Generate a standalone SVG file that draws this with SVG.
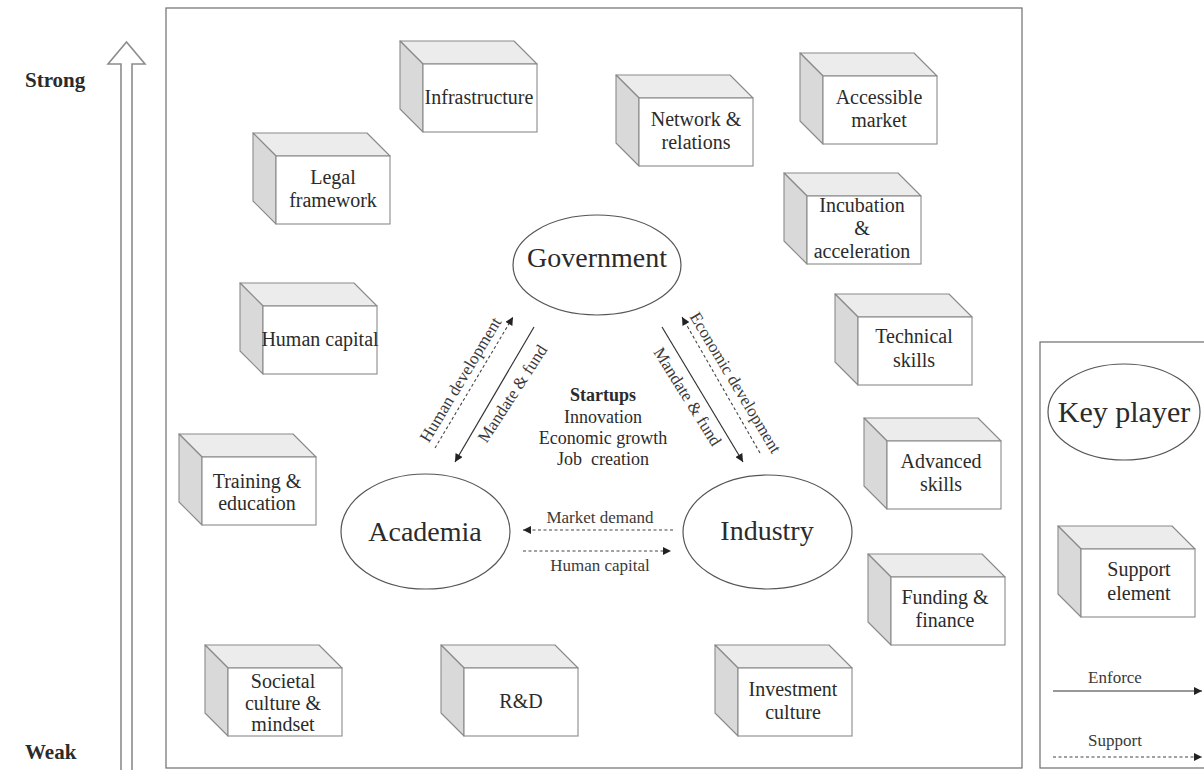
<svg xmlns="http://www.w3.org/2000/svg" xmlns:xlink="http://www.w3.org/1999/xlink" width="1204" height="770" viewBox="0 0 1204 770">
  <style>
    text { font-family: "Liberation Serif", "Times New Roman", serif; fill: #2b2b2b; }
    .box-t { font-size: 20px; text-anchor: middle; }
    .player { font-size: 28px; text-anchor: middle; }
    .core { font-size: 18px; text-anchor: middle; }
    .lbl { font-size: 17px; text-anchor: middle; fill: #3a3a3a; }
    .axis { font-size: 21px; font-weight: bold; }
    .frame { fill: none; stroke: #6e6e6e; stroke-width: 1.2; }
    .ell { fill: #fff; stroke: #555; stroke-width: 1.2; }
    .top { fill: #ececec; stroke: #8a8a8a; stroke-width: 1.1; stroke-linejoin: round; }
    .side { fill: #d9d9d9; stroke: #8a8a8a; stroke-width: 1.1; stroke-linejoin: round; }
    .face { fill: #fff; stroke: #8a8a8a; stroke-width: 1.1; }
    .enforce { fill: none; stroke: #333; stroke-width: 1.2; marker-end: url(#head); }
    .support { fill: none; stroke: #444; stroke-width: 1.1; stroke-dasharray: 3 2.5; marker-end: url(#head); }
  </style>
  <defs>
    <marker id="head" viewBox="0 0 10 10" refX="10" refY="5" markerUnits="userSpaceOnUse" markerWidth="9" markerHeight="8" orient="auto">
      <path d="M0,0 L10,5 L0,10 z" fill="#222"/>
    </marker>
    <!-- extruded box: front face at origin, depth pushed up-left by 23px -->
    <g id="cube">
      <polygon class="top" points="0,0 -23,-23 91,-23 114,0"/>
      <polygon class="side" points="0,0 -23,-23 -23,45 0,68"/>
      <rect class="face" x="0" y="0" width="114" height="68"/>
    </g>
  </defs>

  <rect width="1204" height="770" fill="#fff"/>

  <!-- strength axis -->
  <g id="axis">
    <path d="M121,772 L121,64 L108,64 L126.5,42 L145,64 L132,64 L132,772" fill="#fff" stroke="#8c8c8c" stroke-width="1.6" stroke-linejoin="miter"/>
    <text class="axis" x="25" y="87">Strong</text>
    <text class="axis" x="25" y="759">Weak</text>
  </g>

  <!-- main frame -->
  <rect class="frame" x="166" y="8" width="856" height="760"/>

  <!-- support elements -->
  <g id="infrastructure" transform="translate(423,64)">
    <use xlink:href="#cube"/>
    <text class="box-t" x="56" y="40">Infrastructure</text>
  </g>
  <g id="network" transform="translate(639,98)">
    <use xlink:href="#cube"/>
    <text class="box-t" x="57" y="28">Network &amp;</text>
    <text class="box-t" x="57" y="51">relations</text>
  </g>
  <g id="market" transform="translate(823,76)">
    <use xlink:href="#cube"/>
    <text class="box-t" x="56" y="28">Accessible</text>
    <text class="box-t" x="56" y="51">market</text>
  </g>
  <g id="legal" transform="translate(276,156)">
    <use xlink:href="#cube"/>
    <text class="box-t" x="57" y="28">Legal</text>
    <text class="box-t" x="57" y="51">framework</text>
  </g>
  <g id="incubation" transform="translate(807,196)">
    <use xlink:href="#cube"/>
    <text class="box-t" x="55" y="16">Incubation</text>
    <text class="box-t" x="55" y="39">&amp;</text>
    <text class="box-t" x="55" y="62">acceleration</text>
  </g>
  <g id="human-capital" transform="translate(263,306)">
    <use xlink:href="#cube"/>
    <text class="box-t" x="57" y="40">Human capital</text>
  </g>
  <g id="technical" transform="translate(858,317)">
    <use xlink:href="#cube"/>
    <text class="box-t" x="56" y="26">Technical</text>
    <text class="box-t" x="56" y="50">skills</text>
  </g>
  <g id="training" transform="translate(202,457)">
    <use xlink:href="#cube"/>
    <text class="box-t" x="55" y="31">Training &amp;</text>
    <text class="box-t" x="55" y="53">education</text>
  </g>
  <g id="advanced" transform="translate(887,441)">
    <use xlink:href="#cube"/>
    <text class="box-t" x="54" y="27">Advanced</text>
    <text class="box-t" x="54" y="50">skills</text>
  </g>
  <g id="funding" transform="translate(891,577)">
    <use xlink:href="#cube"/>
    <text class="box-t" x="54" y="27">Funding &amp;</text>
    <text class="box-t" x="54" y="50">finance</text>
  </g>
  <g id="societal" transform="translate(228,668)">
    <use xlink:href="#cube"/>
    <text class="box-t" x="55" y="20">Societal</text>
    <text class="box-t" x="55" y="42">culture &amp;</text>
    <text class="box-t" x="55" y="63">mindset</text>
  </g>
  <g id="rnd" transform="translate(464,668)">
    <use xlink:href="#cube"/>
    <text class="box-t" x="57" y="40">R&amp;D</text>
  </g>
  <g id="investment" transform="translate(738,668)">
    <use xlink:href="#cube"/>
    <text class="box-t" x="55" y="28">Investment</text>
    <text class="box-t" x="55" y="51">culture</text>
  </g>

  <!-- key players -->
  <g id="government">
    <ellipse class="ell" cx="597" cy="265" rx="84" ry="50"/>
    <text class="player" x="597" y="267">Government</text>
  </g>
  <g id="academia">
    <ellipse class="ell" cx="425.5" cy="531.5" rx="84.5" ry="57.5"/>
    <text class="player" x="425" y="541">Academia</text>
  </g>
  <g id="industry">
    <ellipse class="ell" cx="767.5" cy="532" rx="84.5" ry="57"/>
    <text class="player" x="767" y="540">Industry</text>
  </g>

  <!-- startup outcomes -->
  <g id="startups">
    <text class="core" x="603" y="401" font-weight="bold">Startups</text>
    <text class="core" x="603" y="423">Innovation</text>
    <text class="core" x="603" y="444">Economic growth</text>
    <text class="core" x="603" y="465" xml:space="preserve">Job  creation</text>
  </g>

  <!-- relations between players -->
  <g id="connectors">
    <line class="support" x1="435" y1="448" x2="513" y2="317"/>
    <line class="enforce" x1="534" y1="327" x2="455" y2="462"/>
    <line class="enforce" x1="662" y1="327" x2="743" y2="462"/>
    <line class="support" x1="760" y1="453" x2="682" y2="317"/>
    <line class="support" x1="673" y1="530" x2="523" y2="530"/>
    <line class="support" x1="523" y1="551" x2="671" y2="551"/>

    <text class="lbl" transform="translate(461,380) rotate(-59)" y="5">Human development</text>
    <text class="lbl" transform="translate(513,394) rotate(-57)" y="5">Mandate &amp; fund</text>
    <text class="lbl" transform="translate(687,397) rotate(58)" y="5">Mandate &amp; fund</text>
    <text class="lbl" transform="translate(735,383) rotate(59)" y="5">Economic development</text>
    <text class="lbl" x="600" y="523">Market demand</text>
    <text class="lbl" x="600" y="571">Human capital</text>
  </g>

  <!-- legend -->
  <g id="legend">
    <rect class="frame" x="1040" y="342" width="170" height="426"/>
    <g id="legend-player">
      <ellipse class="ell" cx="1124" cy="412" rx="76" ry="48"/>
      <text x="1124" y="422" font-size="30" text-anchor="middle">Key player</text>
    </g>
    <g id="legend-element" transform="translate(1081,549)">
      <use xlink:href="#cube"/>
      <text class="box-t" x="58" y="27">Support</text>
      <text class="box-t" x="58" y="51">element</text>
    </g>
    <g id="legend-enforce">
      <text class="lbl" x="1115" y="683">Enforce</text>
      <line class="enforce" x1="1053" y1="691" x2="1202" y2="691"/>
    </g>
    <g id="legend-support">
      <text class="lbl" x="1115" y="746">Support</text>
      <line class="support" x1="1053" y1="757" x2="1202" y2="757"/>
    </g>
  </g>
</svg>
